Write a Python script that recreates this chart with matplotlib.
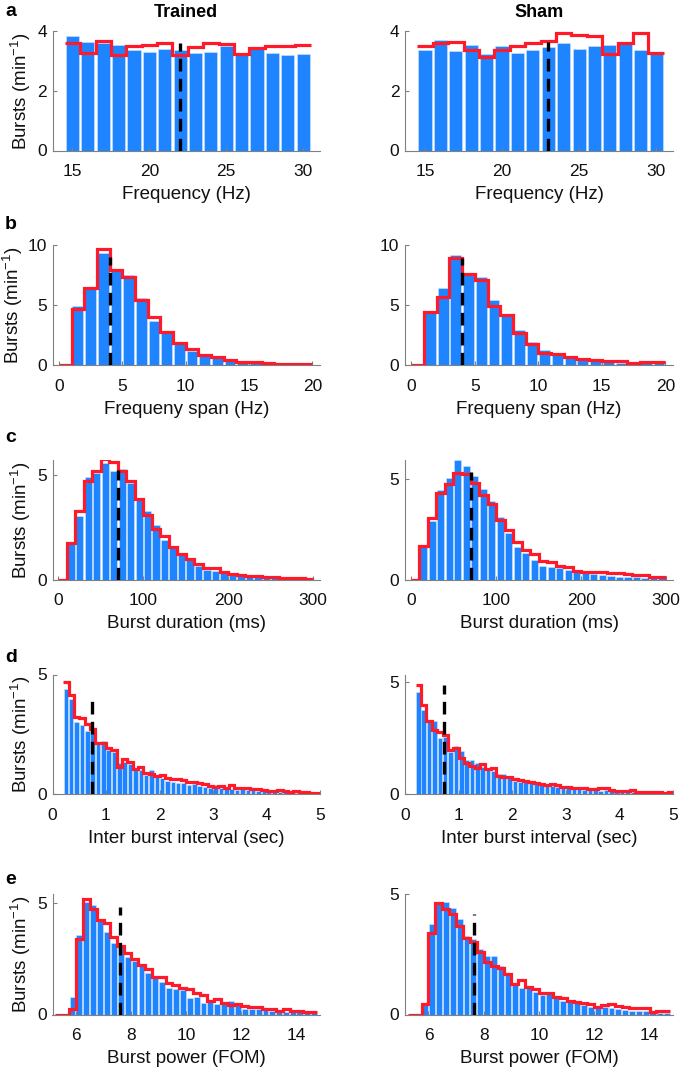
import numpy as np
import matplotlib
matplotlib.use("Agg")
import matplotlib.pyplot as plt

plt.rcParams['font.family'] = ['Liberation Sans', 'DejaVu Sans']
plt.rcParams['mathtext.fontset'] = 'custom'
plt.rcParams['mathtext.rm'] = 'Liberation Sans'
plt.rcParams['mathtext.it'] = 'Liberation Sans:italic'

BLUE = '#1f84ff'
RED = '#ff1a2a'

# ---------------- data ----------------
# a: Frequency (Hz), bins of 1 Hz centred on 15..30
freq_centers = list(range(15, 31))
freq_trained_bar = [3.83, 3.63, 3.60, 3.54, 3.36, 3.30, 3.39, 3.38, 3.28, 3.31, 3.50, 3.21, 3.39, 3.27, 3.19, 3.22]
freq_trained_line = [3.60, 3.27, 3.66, 3.21, 3.50, 3.53, 3.59, 3.19, 3.47, 3.61, 3.58, 3.24, 3.44, 3.49, 3.49, 3.53]
freq_sham_bar = [3.36, 3.69, 3.33, 3.54, 3.22, 3.49, 3.27, 3.37, 3.48, 3.59, 3.41, 3.49, 3.52, 3.58, 3.38, 3.22]
freq_sham_line = [3.49, 3.61, 3.62, 3.36, 3.13, 3.36, 3.49, 3.60, 3.66, 3.93, 3.86, 3.82, 3.24, 3.60, 3.93, 3.27]

# b: Frequency span (Hz), bins of 1 Hz centred on 0.5..19.5
span_centers = [i + 0.5 for i in range(20)]
span_trained_bar = [0, 4.92, 6.40, 9.33, 7.93, 7.51, 5.61, 3.69, 2.71, 1.79, 1.17, 0.73, 0.56, 0.31, 0.22, 0.17, 0.11, 0.08, 0.08, 0.06]
span_trained_line = [0, 4.66, 6.45, 9.66, 7.93, 7.37, 5.42, 4.02, 2.77, 1.87, 1.31, 0.87, 0.67, 0.39, 0.28, 0.22, 0.14, 0.11, 0.08, 0.06]
span_sham_bar = [0, 4.53, 6.40, 9.13, 7.51, 7.32, 5.42, 4.25, 2.90, 1.93, 1.28, 0.95, 0.61, 0.45, 0.34, 0.28, 0.20, 0.17, 0.14, 0.17]
span_sham_line = [0, 4.39, 5.64, 8.88, 7.60, 7.09, 4.92, 4.13, 2.63, 1.79, 1.01, 0.89, 0.67, 0.53, 0.39, 0.34, 0.31, 0.20, 0.22, 0.28]

# c: Burst duration (ms), bins of 10 ms centred on 5..295
dur_centers = [5 + 10 * i for i in range(30)]
dur_trained_bar = [0, 1.67, 3.03, 4.87, 5.06, 5.54, 5.19, 5.25, 4.59, 3.79, 3.26, 2.60, 1.88, 1.61, 1.16, 0.92,
                   0.65, 0.45, 0.40, 0.29, 0.21, 0.18, 0.13, 0.11, 0.10, 0.06, 0.05, 0.03, 0.03, 0.02]
dur_trained_line = [0, 1.72, 3.28, 4.70, 5.18, 5.73, 5.62, 5.18, 4.70, 3.84, 3.07, 2.39, 2.07, 1.56, 1.21, 1.00,
                    0.73, 0.56, 0.53, 0.37, 0.25, 0.21, 0.18, 0.16, 0.13, 0.10, 0.08, 0.06, 0.05, 0.03]
dur_sham_bar = [0, 1.63, 2.93, 4.47, 5.05, 5.97, 5.67, 5.17, 4.52, 3.92, 3.13, 2.33, 1.63, 1.33, 0.97, 0.68,
                0.63, 0.55, 0.47, 0.38, 0.30, 0.27, 0.20, 0.17, 0.13, 0.13, 0.10, 0.08, 0.07, 0.05]
dur_sham_line = [0, 1.67, 3.05, 4.30, 4.77, 5.33, 5.27, 4.80, 4.22, 3.77, 2.97, 2.47, 1.88, 1.47, 1.27, 0.93,
                 0.85, 0.68, 0.60, 0.43, 0.38, 0.35, 0.38, 0.30, 0.33, 0.27, 0.20, 0.22, 0.13, 0.12]

# d: Inter burst interval (sec), bins of 0.1 s centred on 0.25..4.95
ibi_centers = [round(0.25 + 0.1 * i, 2) for i in range(48)]
ibi_trained_bar = [4.39, 3.96, 3.02, 2.88, 2.63, 2.63, 2.08, 2.23, 1.84, 1.77, 1.28, 1.35, 1.24, 1.00, 1.00, 0.79,
                   1.00, 0.72, 0.68, 0.54, 0.52, 0.47, 0.45, 0.38, 0.40, 0.35, 0.31, 0.26, 0.38, 0.26, 0.24, 0.21,
                   0.18, 0.21, 0.15, 0.18, 0.13, 0.13, 0.10, 0.10, 0.08, 0.08, 0.07, 0.06, 0.07, 0.04, 0.04, 0.03]
ibi_trained_line = [4.69, 4.16, 3.23, 3.19, 2.92, 2.74, 2.12, 2.12, 1.91, 1.84, 1.14, 1.46, 1.35, 1.04, 1.14, 0.86,
                    0.82, 0.75, 0.79, 0.65, 0.61, 0.61, 0.58, 0.49, 0.52, 0.45, 0.40, 0.33, 0.31, 0.33, 0.26, 0.38,
                    0.24, 0.26, 0.24, 0.21, 0.21, 0.17, 0.14, 0.14, 0.17, 0.13, 0.10, 0.13, 0.08, 0.08, 0.06, 0.06]
ibi_sham_bar = [4.57, 3.77, 3.22, 3.25, 2.50, 2.57, 1.87, 2.16, 1.93, 1.53, 1.50, 1.38, 1.23, 1.08, 1.03, 0.88,
                0.88, 0.78, 0.58, 0.55, 0.55, 0.51, 0.48, 0.40, 0.40, 0.37, 0.33, 0.28, 0.25, 0.22, 0.21, 0.19,
                0.16, 0.18, 0.15, 0.16, 0.13, 0.12, 0.10, 0.10, 0.09, 0.07, 0.06, 0.06, 0.04, 0.04, 0.04, 0.03]
ibi_sham_line = [4.87, 4.00, 3.25, 2.87, 2.77, 2.65, 1.98, 2.08, 1.60, 1.38, 1.27, 1.18, 1.33, 1.12, 1.18, 0.81,
                 0.78, 0.75, 0.67, 0.63, 0.60, 0.55, 0.48, 0.45, 0.40, 0.43, 0.40, 0.33, 0.30, 0.28, 0.28, 0.25,
                 0.22, 0.22, 0.27, 0.28, 0.18, 0.15, 0.13, 0.15, 0.16, 0.10, 0.07, 0.07, 0.07, 0.07, 0.06, 0.10]

# e: Burst power (FOM), bins of 0.25 centred on 5.375..14.625
pow_centers = [5.375 + 0.25 * i for i in range(38)]
pow_trained_bar = [0, 0, 0.80, 3.60, 5.07, 4.92, 4.22, 3.72, 3.23, 3.05, 2.60, 2.42, 2.27, 1.88, 1.74, 1.47,
                   1.20, 1.13, 1.10, 0.75, 0.77, 0.53, 0.62, 0.47, 0.47, 0.62, 0.50, 0.27, 0.27, 0.23, 0.20, 0.17,
                   0.15, 0.12, 0.12, 0.10, 0.09, 0.08]
pow_trained_line = [0, 0, 0.27, 3.42, 5.18, 4.77, 4.25, 4.10, 3.50, 3.08, 2.78, 2.52, 2.22, 2.07, 1.70, 1.67,
                    1.40, 1.32, 1.20, 1.13, 0.95, 0.90, 0.62, 0.68, 0.50, 0.42, 0.47, 0.38, 0.32, 0.32, 0.23, 0.23,
                    0.17, 0.23, 0.17, 0.15, 0.10, 0.12]
pow_sham_bar = [0, 0, 0.39, 3.72, 4.56, 4.65, 4.40, 3.96, 3.26, 3.13, 2.71, 2.43, 2.43, 2.01, 1.68, 1.29,
                1.11, 1.13, 0.94, 0.81, 0.85, 0.67, 0.57, 0.57, 0.46, 0.39, 0.32, 0.25, 0.29, 0.25, 0.21, 0.18,
                0.15, 0.14, 0.13, 0.10, 0.08, 0.07]
pow_sham_line = [0, 0, 0.43, 3.37, 4.60, 4.35, 4.14, 3.65, 3.17, 2.99, 2.57, 2.19, 1.99, 1.92, 1.67, 1.26,
                 1.43, 1.15, 1.04, 0.90, 0.88, 0.71, 0.67, 0.57, 0.53, 0.49, 0.43, 0.32, 0.39, 0.42, 0.36, 0.32,
                 0.28, 0.28, 0.25, 0.11, 0.15, 0.15]

# medians (dashed lines): position and drawn height, trained / sham
median_x = {'a': (22, 23), 'b': (4, 4), 'c': (70, 70), 'd': (0.73, 0.72), 'e': (7.6, 7.65)}
median_top = {'a': (3.6, 3.63), 'b': (9.0, 8.9), 'c': (5.2, 5.38), 'd': (4.2, 4.9), 'e': (4.85, 4.14)}

xlabels = {'a': 'Frequency (Hz)', 'b': 'Frequeny span (Hz)', 'c': 'Burst duration (ms)',
           'd': 'Inter burst interval (sec)', 'e': 'Burst power (FOM)'}
xticks = {'a': [15, 20, 25, 30], 'b': [0, 5, 10, 15, 20], 'c': [0, 100, 200, 300],
          'd': [0, 1, 2, 3, 4, 5], 'e': [6, 8, 10, 12, 14]}
yticks = {'a': [0, 2, 4], 'b': [0, 5, 10], 'c': [0, 5], 'd': [0, 5], 'e': [0, 5]}
xlims = {'a': (13.7, 31.1), 'b': (-0.5, 20.6), 'c': (-7, 308), 'd': (0, 5), 'e': (5.15, 14.85)}
ylims = {'a': ((0, 4), (0, 4)), 'b': ((0, 10), (0, 10)), 'c': ((0, 5.7), (0, 5.97)),
         'd': ((0, 5), (0, 5.35)), 'e': ((0, 5.45), (0, 5))}

panels = {
    'a': (freq_centers, (freq_trained_bar, freq_trained_line), (freq_sham_bar, freq_sham_line)),
    'b': (span_centers, (span_trained_bar, span_trained_line), (span_sham_bar, span_sham_line)),
    'c': (dur_centers, (dur_trained_bar, dur_trained_line), (dur_sham_bar, dur_sham_line)),
    'd': (ibi_centers, (ibi_trained_bar, ibi_trained_line), (ibi_sham_bar, ibi_sham_line)),
    'e': (pow_centers, (pow_trained_bar, pow_trained_line), (pow_sham_bar, pow_sham_line)),
}

# ---------------- layout ----------------
W, H = 685, 1070
fig = plt.figure(figsize=(W / 100, H / 100), dpi=100)
col_x = [(52.5, 320), (405, 673)]
row_y = {'a': (31, 150.5), 'b': (245, 365), 'c': (460, 579.5), 'd': (674.5, 794), 'e': (893.5, 1014.5)}
label_y = {'a': 12, 'b': 224, 'c': 437, 'd': 658, 'e': 880}
ylabel_x = {'a': -0.072, 'b': -0.102, 'c': -0.072, 'd': -0.072, 'e': -0.072}

for key in 'abcde':
    centers, trained, sham = panels[key]
    centers = np.asarray(centers, dtype=float)
    step = centers[1] - centers[0]
    edges = np.append(centers - step / 2, centers[-1] + step / 2)
    top, bot = row_y[key]
    for ci, (bars, line) in enumerate((trained, sham)):
        x0, x1 = col_x[ci]
        ax = fig.add_axes([x0 / W, 1 - bot / H, (x1 - x0) / W, (bot - top) / H])
        ax.bar(centers, bars, width=step * 0.85, color=BLUE, edgecolor='#cfe4ff', linewidth=0.4, zorder=1)
        ax.stairs(line, edges, color=RED, linewidth=2.3, zorder=3, baseline=None)
        mx = median_x[key][ci]
        ax.plot([mx, mx], [0, median_top[key][ci]], color='black', linewidth=2.4,
                linestyle=(0, (3.8, 2.2)), zorder=4, solid_capstyle='butt')
        ax.set_xlim(*xlims[key])
        ax.set_ylim(*ylims[key][ci])
        ax.set_xticks(xticks[key])
        ax.set_yticks(yticks[key])
        for s in ('top', 'right'):
            ax.spines[s].set_visible(False)
        for s in ('left', 'bottom'):
            ax.spines[s].set_color('#808080')
            ax.spines[s].set_linewidth(0.8)
        ax.tick_params(direction='in', length=3, width=0.8, color='#808080',
                       labelsize=12.5, labelcolor='#111111')
        ax.tick_params(axis='x', pad=10)
        ax.tick_params(axis='y', pad=4)
        ax.set_xlabel(xlabels[key], fontsize=13.5, color='#111111', labelpad=5)
        if ci == 0:
            ax.set_ylabel(r'Bursts (min$^{\mathregular{-1}}$)', fontsize=13.5, color='#111111')
            ax.yaxis.set_label_coords(ylabel_x[key], 0.5)
        if key == 'a':
            ax.set_title(['Trained', 'Sham'][ci], fontsize=13, fontweight='bold', pad=10)
    fig.text(5 / W, 1 - label_y[key] / H, key, fontsize=14, fontweight='bold', va='center', ha='left')

fig.savefig('out.png', dpi=100)
